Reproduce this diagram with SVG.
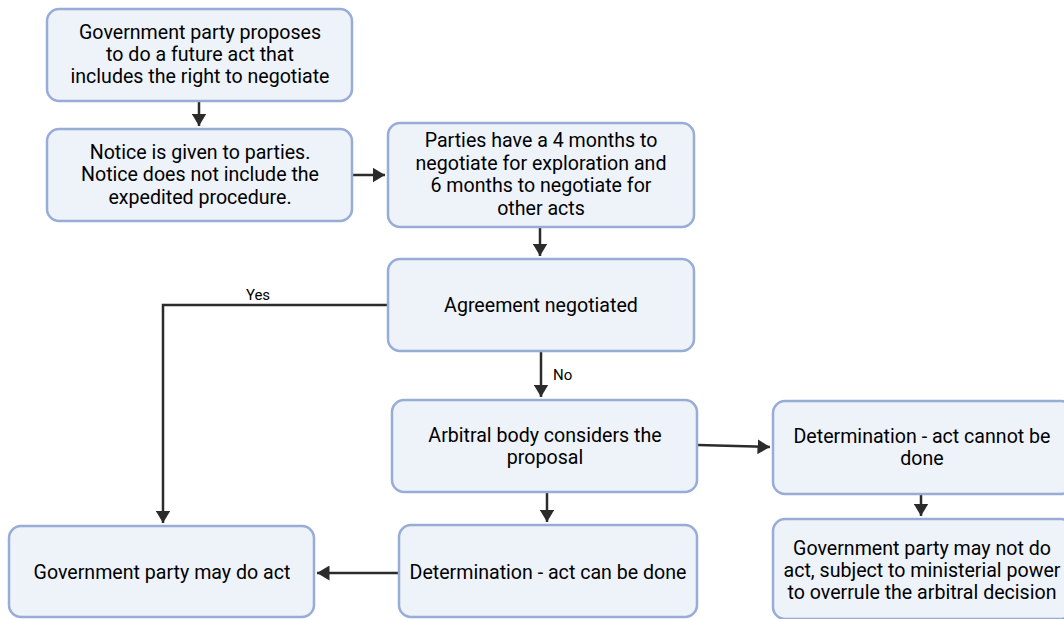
<svg xmlns="http://www.w3.org/2000/svg" width="1064" height="619" viewBox="0 0 1064 619">
<style>
.box{fill:#EEF2F9;stroke:#97ACD7;stroke-width:2.5}
.t{font-family:Roboto,"Liberation Sans",sans-serif;font-size:19.6px;fill:#000;text-anchor:middle}
.l{font-family:Roboto,"Liberation Sans",sans-serif;font-size:15px;fill:#000}
.c{fill:none;stroke:#2b2b2b;stroke-width:2.5}
</style>
<defs>
<marker id="ah" markerWidth="6" markerHeight="6" refX="5" refY="3" orient="auto" markerUnits="strokeWidth">
<path d="M0,0 L5,3 L0,6 z" fill="#2b2b2b"/>
</marker>
</defs>
<rect width="1064" height="619" fill="#fff"/>
<g id="connectors">
<line class="c" x1="199" y1="102" x2="199" y2="126" marker-end="url(#ah)"/>
<line class="c" x1="353" y1="175" x2="385" y2="175" marker-end="url(#ah)"/>
<line class="c" x1="540" y1="228" x2="540" y2="256" marker-end="url(#ah)"/>
<polyline class="c" points="388,305 163,305 163,523" marker-end="url(#ah)"/>
<text class="l" x="258" y="300" text-anchor="middle">Yes</text>
<line class="c" x1="541" y1="352" x2="541" y2="397" marker-end="url(#ah)"/>
<text class="l" x="553" y="380">No</text>
<line class="c" x1="698" y1="445" x2="770" y2="447" marker-end="url(#ah)"/>
<line class="c" x1="547" y1="493" x2="547" y2="522" marker-end="url(#ah)"/>
<line class="c" x1="399" y1="573" x2="317" y2="573" marker-end="url(#ah)"/>
<line class="c" x1="921" y1="495" x2="921" y2="516" marker-end="url(#ah)"/>
</g>
<g id="n1"><rect class="box" x="47" y="9" width="305" height="92" rx="12"/>
<text class="t" x="200" y="39">Government party proposes</text>
<text class="t" x="200" y="61">to do a future act that</text>
<text class="t" x="200" y="83">includes the right to negotiate</text></g>
<g id="n2"><rect class="box" x="47" y="129" width="305" height="92" rx="12"/>
<text class="t" x="200" y="159">Notice is given to parties.</text>
<text class="t" x="200" y="181">Notice does not include the</text>
<text class="t" x="200" y="204">expedited procedure.</text></g>
<g id="n3"><rect class="box" x="388" y="123" width="306" height="104" rx="12"/>
<text class="t" x="541" y="147">Parties have a 4 months to</text>
<text class="t" x="541" y="170">negotiate for exploration and</text>
<text class="t" x="541" y="192">6 months to negotiate for</text>
<text class="t" x="541" y="215">other acts</text></g>
<g id="n4"><rect class="box" x="388" y="259" width="306" height="92" rx="12"/>
<text class="t" x="541" y="312">Agreement negotiated</text></g>
<g id="n5"><rect class="box" x="392" y="400" width="305" height="92" rx="12"/>
<text class="t" x="545" y="442">Arbitral body considers the</text>
<text class="t" x="545" y="464">proposal</text></g>
<g id="n6"><rect class="box" x="399" y="525" width="298" height="92" rx="12"/>
<text class="t" x="548" y="579">Determination - act can be done</text></g>
<g id="n7"><rect class="box" x="9" y="526" width="305" height="91" rx="12"/>
<text class="t" x="162" y="579">Government party may do act</text></g>
<g id="n8"><rect class="box" x="773" y="401" width="300" height="93" rx="12"/>
<text class="t" x="922" y="443">Determination - act cannot be</text>
<text class="t" x="922" y="465">done</text></g>
<g id="n9"><rect class="box" x="773" y="519" width="300" height="100" rx="12"/>
<text class="t" x="922" y="555">Government party may not do</text>
<text class="t" x="922" y="577">act, subject to ministerial power</text>
<text class="t" x="922" y="599">to overrule the arbitral decision</text></g>
</svg>
